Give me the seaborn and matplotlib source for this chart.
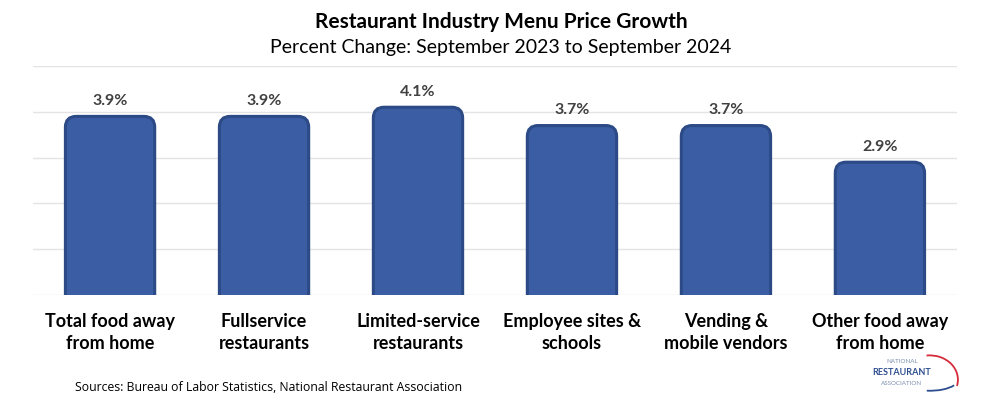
import pandas as pd
import matplotlib.pyplot as plt
import seaborn as sns
from matplotlib.patches import FancyBboxPatch, Arc

categories = [
    "Total food away\nfrom home",
    "Fullservice\nrestaurants",
    "Limited-service\nrestaurants",
    "Employee sites &\nschools",
    "Vending &\nmobile vendors",
    "Other food away\nfrom home",
]
growth = [3.9, 3.9, 4.1, 3.7, 3.7, 2.9]
value_labels = ["3.9%", "3.9%", "4.1%", "3.7%", "3.7%", "2.9%"]

sns.set_style("white")
plt.rcParams["font.family"] = ["Lato", "DejaVu Sans"]

df = pd.DataFrame({"Category": categories, "Growth": growth})

fig = plt.figure(figsize=(10.02, 4.02), dpi=100)
ax = fig.add_axes([0.033, 0.2637, 0.922, 0.5696])

sns.barplot(data=df, x="Category", y="Growth", color="#3A5DA3", width=0.58,
            saturation=1, ax=ax)

ax.set_ylim(0, 5)
ax.set_yticks([0, 1, 2, 3, 4, 5])
ax.yaxis.grid(True, color="#E4E4E4", linewidth=1)
ax.set_axisbelow(True)
ax.set_yticklabels([])
ax.tick_params(axis="both", length=0)
for s in ax.spines.values():
    s.set_visible(False)
ax.set_xlabel("")
ax.set_ylabel("")

# rounded bars
bbox = ax.get_window_extent()
aspect = (5 / bbox.height) / (6 / bbox.width)
for p, lab in zip(list(ax.patches), value_labels):
    x, w, h = p.get_x(), p.get_width(), p.get_height()
    p.set_visible(False)
    r = FancyBboxPatch((x, -0.3), w, h + 0.3,
                       boxstyle="round,pad=0,rounding_size=0.07",
                       mutation_aspect=aspect, facecolor="#3A5DA3",
                       edgecolor="#2C4A86", linewidth=2.2, zorder=3)
    ax.add_patch(r)
    ax.text(x + w / 2, h + 0.2, lab, ha="center", va="bottom",
            fontsize=11.5, fontweight="bold", color="#404040")

ax.set_xticks(range(len(categories)))
ax.set_xticklabels(categories, fontsize=13, fontweight="bold", color="black",
                   linespacing=1.4)
ax.tick_params(axis="x", pad=12)

fig.text(0.5, 0.945, "Restaurant Industry Menu Price Growth", ha="center",
         va="center", fontsize=15, fontweight="bold", color="black")
fig.text(0.5, 0.883, "Percent Change: September 2023 to September 2024",
         ha="center", va="center", fontsize=14, color="black")
fig.text(0.075, 0.035, "Sources: Bureau of Labor Statistics, National Restaurant Association",
         ha="left", va="center", fontsize=8.8, color="black",
         family=["Open Sans", "DejaVu Sans"])

# logo
fig.text(0.9, 0.10, "NATIONAL", ha="center", va="center", fontsize=4.5,
         color="#7A8FB0")
fig.text(0.9, 0.073, "RESTAURANT", ha="center", va="center", fontsize=6.5,
         fontweight="bold", color="#2E4E8F")
fig.text(0.9, 0.045, "ASSOCIATION", ha="center", va="center", fontsize=4.5,
         color="#7A8FB0")
lax = fig.add_axes([0.9, 0.02, 0.07, 0.11])
lax.set_xlim(0, 1)
lax.set_ylim(0, 1)
lax.axis("off")
lax.add_patch(Arc((0.4, 0.3), 0.8, 1.1, theta1=-20, theta2=95,
                  color="#D62B3A", linewidth=1.3))
lax.add_patch(Arc((0.4, 0.3), 0.8, 0.5, theta1=-100, theta2=-20,
                  color="#2E4E8F", linewidth=1.3))

fig.savefig("out.png", dpi=100)
